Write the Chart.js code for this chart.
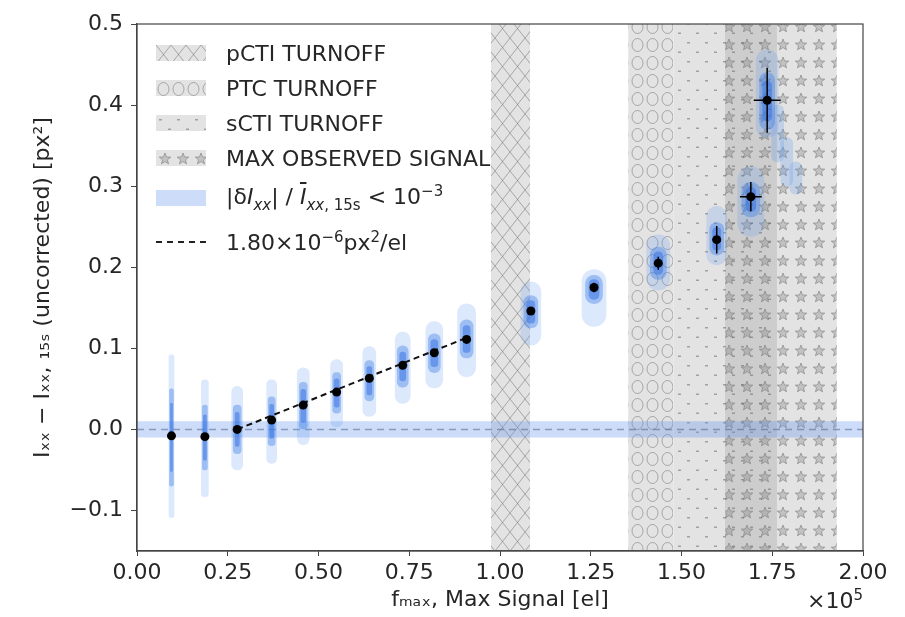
<!DOCTYPE html>
<html>
<head>
<meta charset="utf-8">
<script src="https://cdn.jsdelivr.net/npm/chart.js@4.4.0/dist/chart.umd.min.js"></script>
<style>
  body { margin: 0; background: #fff; }
  #wrap { position: relative; width: 905px; height: 617px; font-family: 'DejaVu Sans', sans-serif; color: #262626; }
  #legend .row { position: absolute; left: 156px; height: 26px; display: flex; align-items: center; font-size: 22px; white-space: nowrap; }
  #legend .patch { width: 50px; height: 16px; margin-right: 20px; }
  #legend .dash { width: 50px; height: 0; border-top: 2px dashed #222; margin-right: 20px; }
  #legend sub, #legend sup { font-size: 15px; }
  #offset { position: absolute; right: 42px; top: 586px; font-size: 22px; }
  #offset sup { font-size: 15px; }
</style>
</head>
<body>
<div id="wrap">
  <canvas id="mycanvas" width="905" height="617"></canvas>
  <div id="legend"></div>
  <div id="offset">×10<sup>5</sup></div>
</div>
<script>
// axis ticks
var xTicks = [0, 0.25, 0.5, 0.75, 1.0, 1.25, 1.5, 1.75, 2.0];
var yTicks = [-0.1, 0.0, 0.1, 0.2, 0.3, 0.4, 0.5];

// mean of each exposure group (x in units of 1e5 el)
var signal   = [0.095, 0.187, 0.276, 0.371, 0.458, 0.550, 0.640, 0.732, 0.819, 0.908, 1.085, 1.259, 1.436, 1.597, 1.691, 1.736];
var meanDiff = [-0.008, -0.009, 0.000, 0.0115, 0.030, 0.046, 0.063, 0.079, 0.0945, 0.111, 0.146, 0.175, 0.205, 0.234, 0.287, 0.406];
var errY     = [0.003, 0.003, 0.003, 0.003, 0.003, 0.003, 0.003, 0.003, 0.003, 0.004, 0.005, 0.006, 0.008, 0.017, 0.018, 0.040];
var errX     = [0.002, 0.002, 0.002, 0.002, 0.002, 0.002, 0.002, 0.002, 0.002, 0.003, 0.004, 0.005, 0.008, 0.012, 0.030, 0.037];

// spread of the per-star measurements
var cloudLo = [-0.109, -0.083, -0.050, -0.042, -0.019, 0.003, 0.016, 0.032, 0.051, 0.065, 0.104, 0.127, 0.172, 0.203, 0.238, 0.360];
var cloudHi = [0.092, 0.061, 0.053, 0.061, 0.076, 0.086, 0.102, 0.120, 0.133, 0.155, 0.182, 0.197, 0.240, 0.275, 0.324, 0.468];
var coreLo  = [-0.070, -0.050, -0.030, -0.020, 0.000, 0.020, 0.035, 0.052, 0.070, 0.088, 0.125, 0.155, 0.185, 0.215, 0.262, 0.370];
var coreHi  = [0.050, 0.030, 0.030, 0.040, 0.058, 0.070, 0.085, 0.103, 0.118, 0.135, 0.165, 0.190, 0.225, 0.255, 0.305, 0.440];
// tail of the last group
var tailX  = [1.765, 1.790, 1.815];
var tailLo = [0.330, 0.300, 0.290];
var tailHi = [0.400, 0.360, 0.330];

// linear fit
var fitX = [0.276, 0.908];
var fitY = [0.000, 0.113];

// turnoff regions
var bandNames = ['pCTI TURNOFF', 'PTC TURNOFF', 'sCTI TURNOFF', 'MAX OBSERVED SIGNAL'];
var bandLo = [0.975, 1.353, 1.477, 1.620];
var bandHi = [1.083, 1.477, 1.763, 1.928];
var flatLimit = 0.01;

// ---- styles ----
var cloudPx = [5, 7, 11, 10, 12, 12, 13, 15, 17, 18, 20, 24, 23, 20, 26, 22];
var bandHatch = ['x', 'o', 'd', 's'];

function makeTile(kind) {
  var sizes = { x: [15, 19], o: [15, 18], d: [18, 19], s: [18, 18] };
  var w = sizes[kind][0], h = sizes[kind][1];
  var c = document.createElement('canvas');
  c.width = w; c.height = h;
  var g = c.getContext('2d');
  g.fillStyle = 'rgba(128,128,128,0.22)';
  g.fillRect(0, 0, w, h);
  g.strokeStyle = 'rgba(105,105,105,0.5)';
  g.lineWidth = 1;
  if (kind === 'x') {
    g.beginPath();
    g.moveTo(0, 0); g.lineTo(w, h);
    g.moveTo(w, 0); g.lineTo(0, h);
    g.stroke();
  } else if (kind === 'o') {
    g.beginPath();
    g.ellipse(w / 2, h / 2, 5.5, 6.5, 0, 0, 2 * Math.PI);
    g.stroke();
  } else if (kind === 'd') {
    g.fillStyle = 'rgba(105,105,105,0.55)';
    g.fillRect(3, 4, 3, 1.5);
    g.fillRect(12, 13.5, 3, 1.5);
  } else if (kind === 's') {
    g.beginPath();
    for (var k = 0; k < 10; k++) {
      var r = k % 2 === 0 ? 6 : 2.6;
      var a = -Math.PI / 2 + k * Math.PI / 5;
      var px = w / 2 + r * Math.cos(a), py = h / 2 + r * Math.sin(a);
      if (k === 0) g.moveTo(px, py); else g.lineTo(px, py);
    }
    g.closePath();
    g.fillStyle = 'rgba(120,120,120,0.3)';
    g.fill();
    g.stroke();
  }
  return c;
}

var canvas = document.getElementById('mycanvas');
var c2d = canvas.getContext('2d');
var tiles = bandHatch.map(makeTile);

var datasets = [];

for (var b = 0; b < bandNames.length; b++) {
  datasets.push({
    type: 'line', label: bandNames[b],
    data: [{ x: bandLo[b], y: 0.5 }, { x: bandHi[b], y: 0.5 }],
    fill: 'start', backgroundColor: c2d.createPattern(tiles[b], 'repeat'),
    borderWidth: 0, pointRadius: 0, order: 20
  });
}

datasets.push({
  type: 'line', label: 'flat',
  data: [{ x: 0, y: flatLimit }, { x: 2, y: flatLimit }],
  fill: { value: -flatLimit }, backgroundColor: 'rgba(100,149,237,0.33)',
  borderWidth: 0, pointRadius: 0, order: 19
});
datasets.push({
  type: 'line', label: 'zero',
  data: [{ x: 0, y: 0 }, { x: 2, y: 0 }],
  borderColor: 'rgba(90,110,150,0.6)', borderDash: [7, 5], borderWidth: 1.5,
  pointRadius: 0, fill: false, order: 18
});

for (var i = 0; i < signal.length; i++) {
  datasets.push({
    type: 'bar', data: [{ x: signal[i], y: [cloudLo[i], cloudHi[i]] }],
    barThickness: cloudPx[i], grouped: false, borderRadius: 30, borderSkipped: false,
    backgroundColor: 'rgba(95,150,240,0.22)', order: 15
  });
  datasets.push({
    type: 'bar', data: [{ x: signal[i], y: [coreLo[i], coreHi[i]] }],
    barThickness: Math.max(2, Math.round(cloudPx[i] * 0.7)), grouped: false, borderRadius: 30, borderSkipped: false,
    backgroundColor: 'rgba(70,130,232,0.42)', order: 14
  });
  datasets.push({
    type: 'bar', data: [{ x: signal[i], y: [coreLo[i] + (coreHi[i] - coreLo[i]) * 0.15, coreHi[i] - (coreHi[i] - coreLo[i]) * 0.15] }],
    barThickness: Math.max(2, Math.round(cloudPx[i] * 0.4)), grouped: false, borderRadius: 30, borderSkipped: false,
    backgroundColor: 'rgba(50,110,225,0.5)', order: 13
  });
}
datasets.push({
  type: 'bar', data: tailX.map(function (x, k) { return { x: x, y: [tailLo[k], tailHi[k]] }; }),
  barThickness: 12, grouped: false, borderRadius: 30, borderSkipped: false,
  backgroundColor: 'rgba(95,150,240,0.25)', order: 16
});

datasets.push({
  type: 'line', label: 'fit',
  data: [{ x: fitX[0], y: fitY[0] }, { x: fitX[1], y: fitY[1] }],
  borderColor: '#111', borderDash: [6, 4], borderWidth: 2, pointRadius: 0, fill: false, order: 5
});

var vSeg = [], hSeg = [];
for (var j = 0; j < signal.length; j++) {
  vSeg.push({ x: signal[j], y: meanDiff[j] - errY[j] }, { x: signal[j], y: meanDiff[j] + errY[j] }, { x: signal[j], y: null });
  hSeg.push({ x: signal[j] - errX[j], y: meanDiff[j] }, { x: signal[j] + errX[j], y: meanDiff[j] }, { x: signal[j], y: null });
}
datasets.push({ type: 'line', data: vSeg, borderColor: '#000', borderWidth: 1.5, pointRadius: 0, spanGaps: false, fill: false, order: 2 });
datasets.push({ type: 'line', data: hSeg, borderColor: '#000', borderWidth: 1.5, pointRadius: 0, spanGaps: false, fill: false, order: 2 });
datasets.push({
  type: 'scatter', data: signal.map(function (x, k) { return { x: x, y: meanDiff[k] }; }),
  pointRadius: 4.5, backgroundColor: '#000', borderWidth: 0, order: 1
});

var framePlugin = {
  id: 'frame',
  afterDatasetsDraw: function (chart) {
    var a = chart.chartArea, g = chart.ctx;
    g.save();
    g.strokeStyle = '#444';
    g.lineWidth = 1.2;
    g.strokeRect(a.left, a.top, a.right - a.left, a.bottom - a.top);
    g.restore();
  }
};

Chart.defaults.font.family = "'DejaVu Sans', sans-serif";
Chart.defaults.font.size = 22;
Chart.defaults.color = '#262626';

var chart = new Chart(canvas, {
  type: 'scatter',
  data: { datasets: datasets },
  plugins: [framePlugin],
  options: {
    responsive: false,
    animation: false,
    devicePixelRatio: 1,
    layout: { padding: { top: 24, right: 42, left: 0, bottom: 0 } },
    plugins: { legend: { display: false }, tooltip: { enabled: false } },
    scales: {
      x: {
        type: 'linear', min: 0, max: 2, offset: false,
        afterBuildTicks: function (s) { s.ticks = xTicks.map(function (v) { return { value: v }; }); },
        afterFit: function (s) { s.height = 66; },
        ticks: { callback: function (v) { return v.toFixed(2); }, padding: 4, maxRotation: 0, autoSkip: false },
        grid: { drawOnChartArea: false, drawTicks: true, tickLength: 5, tickColor: '#444', offset: false },
        border: { display: true, color: '#444', width: 1.2 },
        title: { display: true, text: 'fₘₐₓ, Max Signal [el]', padding: { top: 0, bottom: 4 } }
      },
      y: {
        type: 'linear', min: -0.15, max: 0.5,
        afterBuildTicks: function (s) { s.ticks = yTicks.map(function (v) { return { value: v }; }); },
        afterFit: function (s) { s.width = 137; },
        ticks: { callback: function (v) { return (v < 0 ? '−' : '') + Math.abs(v).toFixed(1); }, padding: 8 },
        grid: { drawOnChartArea: false, drawTicks: true, tickLength: 6, tickColor: '#444' },
        border: { display: true, color: '#444', width: 1.2 },
        title: { display: true, text: 'Iₓₓ − Iₓₓ, ₁₅ₛ (uncorrected) [px²]', padding: { top: 30, bottom: 0 } }
      }
    }
  }
});

// legend (matplotlib-style, inside the axes)
var legendTop = [53, 88, 123, 158, 198, 242];
var legendHtml = [
  bandNames[0], bandNames[1], bandNames[2], bandNames[3],
  '|δ<i>I</i><sub><i>xx</i></sub>| / <i style="text-decoration:overline">I</i><sub><i>xx</i>, 15s</sub> &lt; 10<sup>−3</sup>',
  '1.80×10<sup>−6</sup>px<sup>2</sup>/el'
];
var legend = document.getElementById('legend');
legendHtml.forEach(function (txt, k) {
  var row = document.createElement('div');
  row.className = 'row';
  row.style.top = (legendTop[k] - 13) + 'px';
  var p = document.createElement('div');
  if (k < 4) {
    p.className = 'patch';
    p.style.backgroundImage = 'url(' + tiles[k].toDataURL() + ')';
  } else if (k === 4) {
    p.className = 'patch';
    p.style.background = 'rgba(100,149,237,0.33)';
  } else {
    p.className = 'dash';
  }
  row.appendChild(p);
  var t = document.createElement('span');
  t.innerHTML = txt;
  row.appendChild(t);
  legend.appendChild(row);
});
</script>
</body>
</html>
